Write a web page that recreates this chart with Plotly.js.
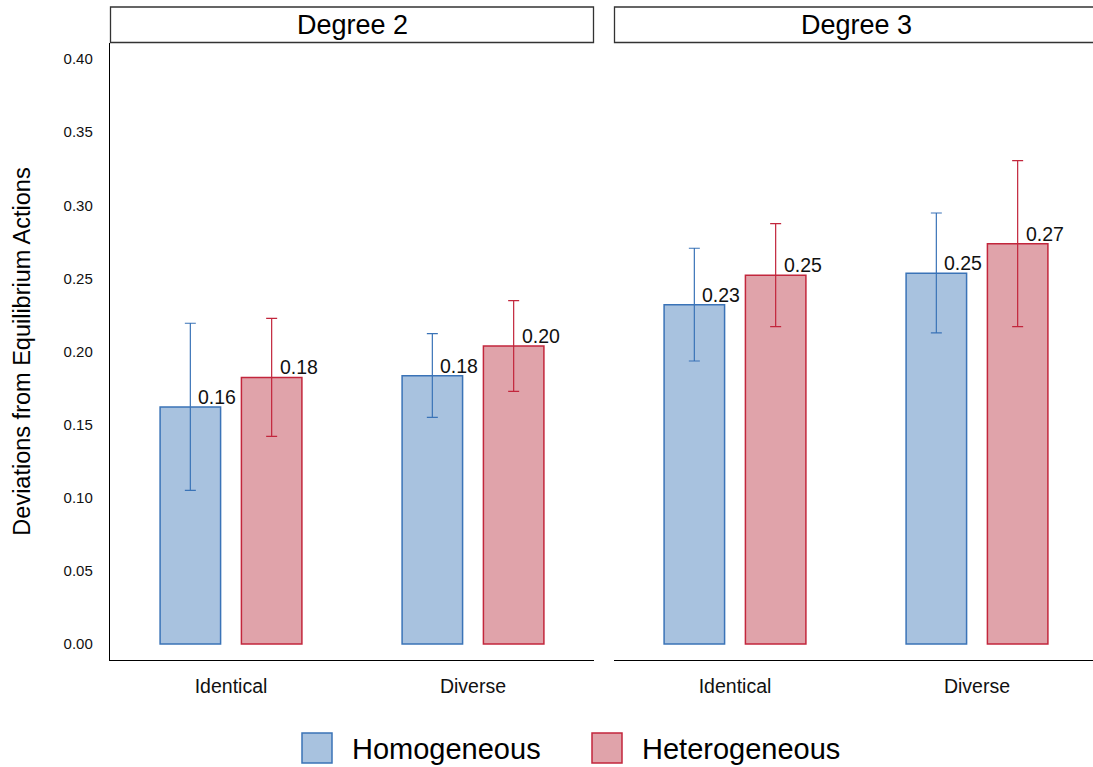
<!DOCTYPE html>
<html>
<head>
<meta charset="utf-8">
<script src="https://cdn.plot.ly/plotly-3.0.1.min.js"></script>
<style>html,body{margin:0;padding:0;background:#fff;}#chart{width:1093px;height:767px;}</style>
</head>
<body>
<div id="chart"></div>
<script>
// ---- data ----
const panels = ["Degree 2", "Degree 3"];
const categories = ["Identical", "Diverse"];
const seriesNames = ["Homogeneous", "Heterogeneous"];
// values per panel: [Identical, Diverse]
const homogValues = [[0.162, 0.1835], [0.232, 0.2535]];
const homogLower  = [[0.105, 0.155], [0.1935, 0.2127]];
const homogUpper  = [[0.2193, 0.2122], [0.2706, 0.2947]];
const heterValues = [[0.1823, 0.2038], [0.2521, 0.2737]];
const heterLower  = [[0.142, 0.1728], [0.217, 0.217]];
const heterUpper  = [[0.2227, 0.2348], [0.2874, 0.3305]];
const yTicks = [0, 0.05, 0.10, 0.15, 0.20, 0.25, 0.30, 0.35, 0.40];

// ---- styling ----
const W = 1093, H = 767;
const FONT = "Liberation Sans, Arial, Helvetica, sans-serif";
const fills = ["#A8C2DF", "#E0A3AA"];
const lines = ["#3A73B7", "#C2263C"];
const offsets = [-0.293, 0.043];
const barWidth = 0.25;
const px = v => v / W, py = v => 1 - v / H;

const xPos = categories.map((c, i) => i + 1);
const traces = [];
const annotations = [];
const seriesVals = [homogValues, heterValues];
const seriesLo = [homogLower, heterLower];
const seriesHi = [homogUpper, heterUpper];

panels.forEach((p, pi) => {
  const xa = pi === 0 ? "x" : "x2";
  seriesNames.forEach((s, si) => {
    const vals = seriesVals[si][pi];
    traces.push({
      type: "bar", name: s, x: xPos, y: vals, xaxis: xa, yaxis: "y",
      offset: offsets[si], width: barWidth, showlegend: false,
      marker: {color: fills[si], line: {color: lines[si], width: 1.5}},
      error_y: {type: "data", symmetric: false,
        array: vals.map((v, k) => seriesHi[si][pi][k] - v),
        arrayminus: vals.map((v, k) => v - seriesLo[si][pi][k]),
        color: lines[si], thickness: 1.2, width: 5.5},
      hoverinfo: "skip"
    });
    vals.forEach((v, k) => {
      annotations.push({
        xref: xa, yref: "y", x: xPos[k] + offsets[si] + barWidth / 2 + 0.112, y: v,
        xanchor: "center", yanchor: "bottom", yshift: -3, showarrow: false,
        text: v.toFixed(2), font: {family: FONT, size: 19.5, color: "#111"}
      });
    });
  });
});

// strip headers
const stripX = [[110, 594], [614, 1100]];
const stripTextX = [352, 856];
const shapes = [];
stripX.forEach((sx, i) => {
  shapes.push({type: "rect", xref: "paper", yref: "paper",
    x0: px(sx[0] + 0.5), x1: px(sx[1] - 0.5), y0: py(42.5), y1: py(7),
    line: {color: "#333", width: 1.3}, fillcolor: "rgba(0,0,0,0)"});
  annotations.push({xref: "paper", yref: "paper", x: px(stripTextX[i]), y: py(25),
    xanchor: "center", yanchor: "middle", showarrow: false, text: panels[i],
    font: {family: FONT, size: 27, color: "#000"}});
});

// legend (manual)
const legBoxX = [302, 592];
const legTextX = [350, 640];
seriesNames.forEach((s, i) => {
  shapes.push({type: "rect", xref: "paper", yref: "paper",
    x0: px(legBoxX[i]), x1: px(legBoxX[i] + 30), y0: py(763), y1: py(733),
    fillcolor: fills[i], line: {color: lines[i], width: 1.5}});
  annotations.push({xref: "paper", yref: "paper", x: px(legTextX[i]), y: py(749),
    xanchor: "left", yanchor: "middle", showarrow: false, text: s,
    font: {family: FONT, size: 29, color: "#000"}});
});

const yDomain = [py(660), py(43)];
const layout = {
  width: W, height: H, margin: {l: 0, r: 0, t: 0, b: 0},
  paper_bgcolor: "#fff", plot_bgcolor: "rgba(0,0,0,0)",
  barmode: "overlay", showlegend: false,
  font: {family: FONT, color: "#000"},
  xaxis: {domain: [px(110), px(594)], range: [0.5, 2.5], anchor: "y",
    tickvals: xPos, ticktext: categories, ticks: "", showgrid: false, zeroline: false,
    showline: true, linecolor: "#000", linewidth: 1.2, ticklabelstandoff: 8,
    tickfont: {family: FONT, size: 19.5, color: "#111"}, fixedrange: true},
  xaxis2: {domain: [px(614), 1], range: [0.5, 0.5 + 479 / 242], anchor: "y",
    tickvals: xPos, ticktext: categories, ticks: "", showgrid: false, zeroline: false,
    showline: true, linecolor: "#000", linewidth: 1.2, ticklabelstandoff: 8,
    tickfont: {family: FONT, size: 19.5, color: "#111"}, fixedrange: true},
  yaxis: {domain: yDomain, range: [-0.01094, 0.41094], anchor: "x",
    tickvals: yTicks, ticktext: yTicks.map(v => v.toFixed(2)), ticks: "",
    showgrid: false, zeroline: false, showline: true, linecolor: "#000", linewidth: 1.2,
    ticklabelstandoff: 13, tickfont: {family: FONT, size: 15, color: "#111"},
    title: {text: "Deviations from Equilibrium Actions", standoff: 26,
      font: {family: FONT, size: 23.5, color: "#000"}}, fixedrange: true},
  shapes: shapes,
  annotations: annotations
};
Plotly.newPlot("chart", traces, layout, {displayModeBar: false, staticPlot: true});
</script>
</body>
</html>
